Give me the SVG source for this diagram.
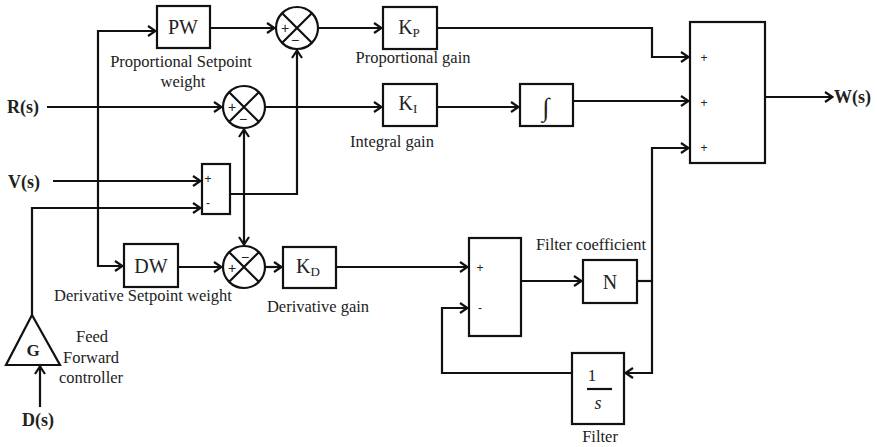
<svg xmlns="http://www.w3.org/2000/svg" width="877" height="447" viewBox="0 0 877 447">
<style>
.blk{fill:#fff;stroke:#111;stroke-width:2.2}
.ln{fill:none;stroke:#111;stroke-width:2.2}
.ar{fill:none;stroke:#111;stroke-width:2.2;marker-end:url(#arr)}
text{font-family:"Liberation Serif","Times New Roman",serif;fill:#222}
.lab{font-size:16.5px}
.io{font-size:18px;font-weight:bold}
.big{font-size:20px}
.sg{font-family:"Liberation Sans",Arial,sans-serif;font-size:12px}
.cs{font-family:"Liberation Sans",Arial,sans-serif;font-size:14px}
.c{text-anchor:middle}
</style>
<defs>
<marker id="arr" viewBox="0 0 10 12" refX="9.5" refY="6" markerWidth="10" markerHeight="12" orient="auto" markerUnits="userSpaceOnUse">
<path d="M1.5,1 L9,6 L1.5,11" fill="none" stroke="#111" stroke-width="2.2"/>
</marker>
</defs>
<rect width="877" height="447" fill="#fff"/>
<g id="connectors">
<path class="ar" d="M47,107 H222"/>
<path class="ar" d="M98,150 V31 H156"/>
<path class="ar" d="M98,150 V266 H123"/>
<path class="ar" d="M210,28 H275"/>
<path class="ar" d="M318,28 H382"/>
<path class="ar" d="M437,28 H652 V57 H689"/>
<path class="ar" d="M265,107 H382"/>
<path class="ar" d="M437,107 H519"/>
<path class="ar" d="M573,101 H689"/>
<path class="ar" d="M765,97 H833"/>
<path class="ar" d="M53,181 H201"/>
<path class="ar" d="M32,315 V208 H201"/>
<path class="ar" d="M230,194 H297 V50"/>
<path class="ar" d="M244,194 V129"/>
<path class="ar" d="M244,194 V245"/>
<path class="ar" d="M178,267 H222"/>
<path class="ar" d="M265,267 H282"/>
<path class="ar" d="M336,267 H468"/>
<path class="ar" d="M521,281 H582"/>
<path class="ln" d="M637,281 H652"/>
<path class="ar" d="M652,281 V148 H689"/>
<path class="ar" d="M652,281 V373 H625"/>
<path class="ar" d="M572,373 H442 V308 H468"/>
<path class="ar" d="M40,407 V366"/>
</g>
<g id="sum-p">
<circle class="blk" cx="297" cy="28" r="21"/>
<path class="ln" d="M282.2,13.2 L311.8,42.8 M311.8,13.2 L282.2,42.8"/>
<text class="cs c" x="285" y="33">+</text>
<text class="cs c" x="295" y="45">−</text>
</g>
<g id="sum-i">
<circle class="blk" cx="244" cy="107" r="21"/>
<path class="ln" d="M229.2,92.2 L258.8,121.8 M258.8,92.2 L229.2,121.8"/>
<text class="cs c" x="232" y="112">+</text>
<text class="cs c" x="243" y="124">−</text>
</g>
<g id="sum-d">
<circle class="blk" cx="244" cy="267" r="21"/>
<path class="ln" d="M229.2,252.2 L258.8,281.8 M258.8,252.2 L229.2,281.8"/>
<text class="cs c" x="245" y="262">−</text>
<text class="cs c" x="232" y="273">+</text>
</g>
<g id="pw">
<rect class="blk" x="157" y="6" width="53" height="42"/>
<text class="big c" x="183" y="34">PW</text>
<text class="lab c" x="181" y="67">Proportional Setpoint</text>
<text class="lab c" x="183" y="87">weight</text>
</g>
<g id="kp">
<rect class="blk" x="383" y="7" width="54" height="42"/>
<text class="big c" x="409" y="34">K<tspan font-size="13" dy="3">P</tspan></text>
<text class="lab c" x="413" y="63">Proportional gain</text>
</g>
<g id="ki">
<rect class="blk" x="383" y="84" width="54" height="42"/>
<text class="big c" x="408" y="110">K<tspan font-size="13" dy="3">I</tspan></text>
<text class="lab c" x="392" y="147">Integral gain</text>
</g>
<g id="integrator">
<rect class="blk" x="520" y="84" width="53" height="42"/>
<text class="c" x="546" y="116" font-size="26">∫</text>
</g>
<g id="summer">
<rect class="blk" x="690" y="22" width="75" height="141"/>
<text class="sg c" x="704" y="62">+</text>
<text class="sg c" x="704" y="107">+</text>
<text class="sg c" x="704" y="152">+</text>
</g>
<g id="vsum">
<rect class="blk" x="202" y="164" width="28" height="50"/>
<text class="sg c" x="208" y="183">+</text>
<text class="sg c" x="208" y="207">-</text>
</g>
<g id="dw">
<rect class="blk" x="124" y="244" width="54" height="43"/>
<text class="big c" x="151" y="273">DW</text>
<text class="lab c" x="143" y="301">Derivative Setpoint weight</text>
</g>
<g id="kd">
<rect class="blk" x="283" y="247" width="53" height="41"/>
<text class="big c" x="308" y="273">K<tspan font-size="13" dy="3">D</tspan></text>
<text class="lab c" x="318" y="312">Derivative gain</text>
</g>
<g id="fsum">
<rect class="blk" x="469" y="238" width="52" height="98"/>
<text class="sg c" x="480" y="272">+</text>
<text class="sg c" x="480" y="312">-</text>
</g>
<g id="n">
<rect class="blk" x="583" y="260" width="54" height="43"/>
<text class="big c" x="610" y="289">N</text>
<text class="lab c" x="591" y="250">Filter coefficient</text>
</g>
<g id="filter">
<rect class="blk" x="572" y="353" width="52" height="71"/>
<text class="c" x="592" y="381" font-size="17">1</text>
<path class="ln" d="M587,389 H612" stroke-width="1.6"/>
<text class="c" x="598" y="409" font-size="18" font-style="italic">s</text>
<text class="lab c" x="600" y="442">Filter</text>
</g>
<g id="ff">
<polygon class="blk" points="32,315 6,365 60,365"/>
<text class="c" x="33" y="356" font-size="17" font-weight="bold">G</text>
<text class="lab c" x="92" y="342">Feed</text>
<text class="lab c" x="91" y="363">Forward</text>
<text class="lab c" x="91" y="383">controller</text>
</g>
<g id="io">
<text class="io" x="7" y="113">R(s)</text>
<text class="io" x="8" y="188">V(s)</text>
<text class="io c" x="38" y="426">D(s)</text>
<text class="io" x="834" y="103">W(s)</text>
</g>
</svg>
